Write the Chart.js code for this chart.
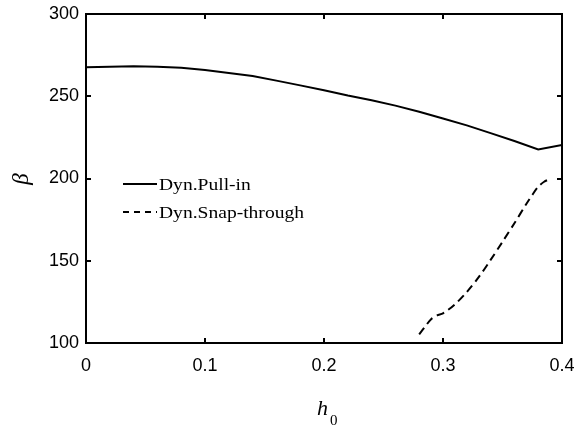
<!DOCTYPE html>
<html>
<head>
<meta charset="utf-8">
<script src="https://cdn.jsdelivr.net/npm/chart.js@4.4.1/dist/chart.umd.min.js"></script>
<style>
  html, body { margin: 0; padding: 0; background: #fff; }
  #wrap { width: 574px; height: 428px; }
</style>
</head>
<body>
<div id="wrap"><canvas id="c" width="574" height="428"></canvas></div>
<script>
// ===============================
// DATA
// ===============================
const pullX = [0, 0.02, 0.04, 0.06, 0.08, 0.10, 0.12, 0.14, 0.16, 0.18, 0.20, 0.22, 0.24, 0.26, 0.28, 0.30, 0.32, 0.34, 0.36, 0.38, 0.40];
const pullY = [267.6, 268.0, 268.2, 268.0, 267.3, 266.0, 264.2, 262.3, 259.5, 256.6, 253.6, 250.4, 247.6, 244.3, 240.6, 236.5, 232.3, 227.6, 222.8, 217.7, 220.4];

const snapX = [0.280, 0.285, 0.290, 0.295, 0.300, 0.310, 0.320, 0.330, 0.340, 0.350, 0.360, 0.370, 0.375, 0.380, 0.385, 0.390];
const snapY = [105.3, 110.0, 114.5, 116.8, 118.0, 123.5, 131.0, 140.0, 150.5, 161.5, 172.8, 184.5, 190.0, 195.0, 198.0, 199.8];

const xTicks = [0, 0.1, 0.2, 0.3, 0.4];
const yTicks = [100, 150, 200, 250, 300];
const legendLabels = ['Dyn.Pull-in', 'Dyn.Snap-through'];

const toPoints = (xs, ys) => xs.map((x, i) => ({ x: x, y: ys[i] }));

// ===============================
// FRAME / TICKS / TITLES / LEGEND
// ===============================
const framePlugin = {
    id: 'frame',
    afterDraw(chart) {
        const ctx = chart.ctx;
        const a = chart.chartArea;
        const xs = chart.scales.x, ys = chart.scales.y;
        ctx.save();
        ctx.strokeStyle = '#000';
        ctx.lineWidth = 2;
        ctx.strokeRect(a.left, a.top, a.right - a.left, a.bottom - a.top);

        // inward ticks on all four sides
        const tl = 5;
        ctx.beginPath();
        xTicks.forEach(v => {
            const px = Math.round(xs.getPixelForValue(v));
            ctx.moveTo(px, a.bottom); ctx.lineTo(px, a.bottom - tl);
            ctx.moveTo(px, a.top); ctx.lineTo(px, a.top + tl);
        });
        yTicks.forEach(v => {
            const py = Math.round(ys.getPixelForValue(v));
            ctx.moveTo(a.left, py); ctx.lineTo(a.left + tl, py);
            ctx.moveTo(a.right, py); ctx.lineTo(a.right - tl, py);
        });
        ctx.stroke();

        // axis titles
        ctx.fillStyle = '#000';
        ctx.textBaseline = 'alphabetic';
        ctx.font = 'italic 22px "Liberation Serif", "Times New Roman", serif';
        ctx.textAlign = 'left';
        ctx.fillText('h', 317, 415);
        ctx.font = '15px "Liberation Serif", "Times New Roman", serif';
        ctx.fillText('0', 330, 425);

        ctx.save();
        ctx.translate(28, 179);
        ctx.rotate(-Math.PI / 2);
        ctx.textAlign = 'center';
        ctx.font = 'italic 23px "Liberation Serif", "Times New Roman", serif';
        ctx.fillText('\u03B2', 0, 0);
        ctx.restore();

        // legend
        const rows = [{ y: 184, dash: [] }, { y: 212, dash: [6, 5] }];
        rows.forEach((r, i) => {
            ctx.beginPath();
            ctx.setLineDash(r.dash);
            ctx.lineWidth = 2;
            ctx.moveTo(123, r.y);
            ctx.lineTo(157, r.y);
            ctx.stroke();
            ctx.setLineDash([]);
            ctx.save();
            ctx.translate(159, r.y + 6);
            ctx.scale(1.15, 1);
            ctx.font = '17px "Liberation Serif", "Times New Roman", serif';
            ctx.textAlign = 'left';
            ctx.fillText(legendLabels[i], 0, 0);
            ctx.restore();
        });
        ctx.restore();
    }
};

// ===============================
// INIT
// ===============================
const ctx = document.getElementById('c').getContext('2d');
new Chart(ctx, {
    type: 'scatter',
    data: {
        datasets: [
            { label: legendLabels[0], data: toPoints(pullX, pullY), showLine: true, borderColor: '#000', borderWidth: 2, pointRadius: 0, tension: 0 },
            { label: legendLabels[1], data: toPoints(snapX, snapY), showLine: true, borderColor: '#000', borderWidth: 2, borderDash: [8, 5], pointRadius: 0, tension: 0.3 }
        ]
    },
    options: {
        responsive: false,
        animation: false,
        devicePixelRatio: 1,
        layout: { padding: { top: 14, right: 12, left: 0, bottom: 0 } },
        plugins: { legend: { display: false }, tooltip: { enabled: false } },
        scales: {
            x: {
                type: 'linear', min: 0, max: 0.4,
                afterBuildTicks: s => { s.ticks = xTicks.map(v => ({ value: v })); },
                afterFit: s => { s.height = 85; s.paddingLeft = 0; s.paddingRight = 0; },
                grid: { display: false, drawTicks: false },
                border: { display: false },
                ticks: { color: '#000', padding: 12, font: { family: '"Liberation Sans", Arial, sans-serif', size: 18 }, callback: v => String(v) }
            },
            y: {
                type: 'linear', min: 100, max: 300,
                afterBuildTicks: s => { s.ticks = yTicks.map(v => ({ value: v })); },
                afterFit: s => { s.width = 86; s.paddingTop = 0; s.paddingBottom = 0; },
                grid: { display: false, drawTicks: false },
                border: { display: false },
                ticks: { color: '#000', padding: 7, font: { family: '"Liberation Sans", Arial, sans-serif', size: 18 } }
            }
        }
    },
    plugins: [framePlugin]
});
</script>
</body>
</html>
